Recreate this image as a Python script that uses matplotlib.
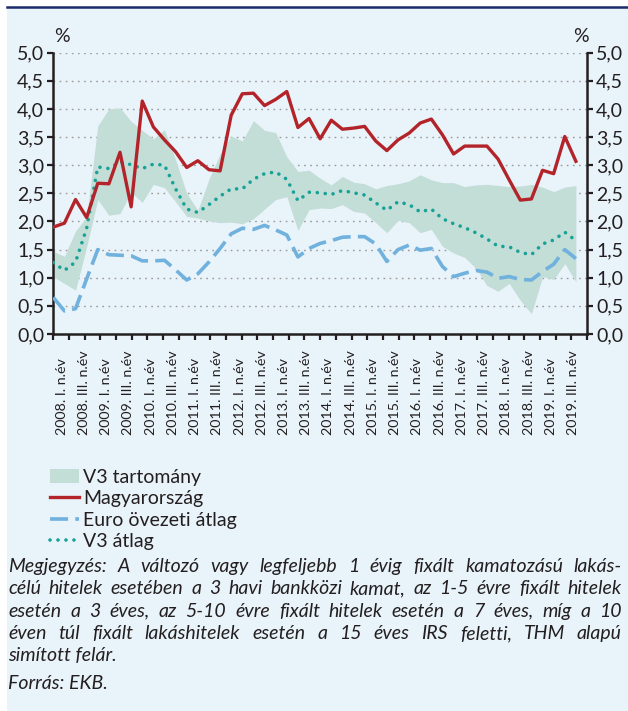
import numpy as np
import matplotlib
matplotlib.use('Agg')
import matplotlib.pyplot as plt
from matplotlib.patches import Rectangle, Patch
from matplotlib.lines import Line2D
from matplotlib.ticker import FuncFormatter

plt.rcParams['font.family'] = ['Lato', 'DejaVu Sans']

# quarterly data, 2008 Q1 - 2019 Q4
quarters = [f'{y}. {q}. n.év' for y in range(2008, 2020) for q in ['I', 'II', 'III', 'IV']]

hungary = [1.90, 1.97, 2.39, 2.07, 2.68, 2.67, 3.23, 2.26, 4.14, 3.68,
           3.45, 3.24, 2.96, 3.08, 2.92, 2.90, 3.89, 4.27, 4.28, 4.06,
           4.17, 4.31, 3.67, 3.83, 3.47, 3.80, 3.64, 3.66, 3.69, 3.43,
           3.26, 3.45, 3.57, 3.75, 3.82, 3.54, 3.20, 3.34, 3.34, 3.34,
           3.11, 2.74, 2.38, 2.40, 2.91, 2.85, 3.51, 3.07]

euro_avg = [0.65, 0.41, 0.45, 0.98, 1.50, 1.41, 1.40, 1.39, 1.30, 1.30,
            1.31, 1.14, 0.96, 1.07, 1.28, 1.52, 1.78, 1.88, 1.86, 1.93,
            1.85, 1.76, 1.37, 1.52, 1.61, 1.66, 1.72, 1.73, 1.73, 1.60,
            1.29, 1.50, 1.58, 1.49, 1.52, 1.20, 1.02, 1.08, 1.13, 1.10,
            0.99, 1.02, 0.97, 0.96, 1.11, 1.24, 1.50, 1.34]

v3_avg = [1.27, 1.13, 1.28, 1.88, 2.97, 2.94, 3.06, 3.01, 2.94, 3.02,
          3.00, 2.58, 2.22, 2.16, 2.30, 2.45, 2.58, 2.58, 2.75, 2.85,
          2.88, 2.75, 2.37, 2.52, 2.51, 2.48, 2.55, 2.51, 2.47, 2.33,
          2.20, 2.35, 2.30, 2.17, 2.22, 2.05, 1.96, 1.89, 1.80, 1.69,
          1.56, 1.55, 1.45, 1.41, 1.60, 1.67, 1.81, 1.66]

v3_low = [1.02, 0.90, 0.78, 1.55, 2.39, 2.11, 2.14, 2.52, 2.34, 2.66,
          2.60, 2.35, 2.09, 2.06, 2.01, 1.98, 1.99, 1.96, 2.05, 2.22,
          2.39, 2.44, 1.84, 2.21, 2.24, 2.23, 2.30, 2.18, 2.15, 1.98,
          1.80, 2.02, 1.98, 1.80, 1.86, 1.56, 1.44, 1.36, 1.17, 0.86,
          0.76, 0.90, 0.60, 0.36, 1.02, 0.97, 1.25, 0.93]

v3_high = [1.47, 1.38, 1.83, 2.08, 3.70, 4.00, 4.02, 3.78, 3.62, 3.47,
           3.63, 3.10, 2.50, 2.20, 2.75, 3.20, 3.52, 3.43, 3.79, 3.62,
           3.58, 3.15, 2.89, 2.91, 2.77, 2.65, 2.80, 2.70, 2.67, 2.58,
           2.64, 2.67, 2.72, 2.83, 2.74, 2.69, 2.69, 2.62, 2.65, 2.66,
           2.64, 2.62, 2.63, 2.66, 2.61, 2.53, 2.61, 2.64]

labels = ['V3 tartomány', 'Magyarország', 'Euro övezeti átlag', 'V3 átlag']

note_lines = [
    'Megjegyzés: A változó vagy legfeljebb 1 évig fixált kamatozású lakás-',
    'célú hitelek esetében a 3 havi bankközi kamat, az 1-5 évre fixált hitelek',
    'esetén a 3 éves, az 5-10 évre fixált hitelek esetén a 7 éves, míg a 10',
    'éven túl fixált lakáshitelek esetén a 15 éves IRS feletti, THM alapú',
]
note_last = 'simított felár.'
source = 'Forrás: EKB.'

BG = '#e9f3fa'
BAND = '#c3ddd7'
RED = '#b3242a'
BLUE = '#70b1dd'
TEAL = '#16a297'
INK = '#231f20'

W, H = 628, 711
fig = plt.figure(figsize=(W / 100, H / 100), dpi=100, facecolor='white')
fig.patches.append(Rectangle((7 / W, 0), 1, 1 - 8 / H, transform=fig.transFigure,
                             facecolor=BG, edgecolor='none', zorder=-10))
fig.add_artist(Line2D([7 / W, 1], [1 - 7 / H, 1 - 7 / H], color='#1b2a6b', lw=1.8))

ax = fig.add_axes([53.3 / W, 1 - 334 / H, (587 - 53.3) / W, (334 - 52.7) / H])
ax.set_facecolor('none')

x = np.arange(len(quarters))
ax.fill_between(x, v3_low, v3_high, color=BAND, lw=0, zorder=1)
ax.plot(x, euro_avg, color=BLUE, lw=2.6, dashes=(5, 2), zorder=3)
ax.plot(x, v3_avg, color=TEAL, lw=2.6, dashes=(0.01, 2.2), dash_capstyle='round', zorder=4)
ax.plot(x, hungary, color=RED, lw=2.4, zorder=5)

ax.set_xlim(0, len(quarters))
ax.set_ylim(0, 5)
ax.set_yticks(np.arange(0, 5.01, 0.5))
ax.yaxis.set_major_formatter(FuncFormatter(lambda v, p: f'{v:.1f}'.replace('.', ',')))
for v in np.arange(0.5, 5.01, 0.5):
    ax.axhline(v, color='#9a9a9a', lw=1.0, dashes=(1.2, 3.2), zorder=0)

ax.set_xticks(np.linspace(0, len(quarters), 35))
ax.set_xticklabels([])
ax.tick_params(axis='x', direction='out', length=4, width=1.6, color=INK)
ax.tick_params(axis='y', direction='out', length=4, width=1.6, color=INK,
               labelsize=14, labelcolor=INK, pad=2.5, right=True, labelright=True)
for s in ['left', 'right', 'bottom']:
    ax.spines[s].set_linewidth(1.8)
    ax.spines[s].set_color(INK)
ax.spines['top'].set_visible(False)

trans = ax.get_xaxis_transform()
for i in range(0, len(quarters), 2):
    ax.text(i + 0.75, -(435 - 334) / (334 - 52.7), quarters[i], transform=trans,
            rotation=90, ha='center', va='bottom', fontsize=10.3, color=INK)

fig.text(62 / W, 1 - 37 / H, '%', ha='center', va='center', fontsize=14, color=INK)
fig.text(581 / W, 1 - 37 / H, '%', ha='center', va='center', fontsize=14, color=INK)

handles = [Patch(facecolor=BAND, edgecolor='none'),
           Line2D([], [], color=RED, lw=2.4),
           Line2D([], [], color=BLUE, lw=2.6, dashes=(5, 2)),
           Line2D([], [], color=TEAL, lw=2.6, dashes=(0.01, 2.2), dash_capstyle='round')]
fig.legend(handles, labels, loc='upper left', bbox_to_anchor=(50 / W, 1 - 469 / H),
           frameon=False, fontsize=14, handlelength=1.5, handletextpad=0.2,
           labelspacing=0.22, borderpad=0, borderaxespad=0, labelcolor=INK)

# justified note text
renderer = fig.canvas.get_renderer()
x0, x1 = 8, 622
kw = dict(fontsize=14, style='italic', color=INK, va='baseline')
for k, line in enumerate(note_lines):
    yb = 1 - (572 + 22.3 * k) / H
    words = line.split(' ')
    ts = [fig.text(0, yb, w, **kw) for w in words]
    widths = [t.get_window_extent(renderer).width for t in ts]
    gap = ((x1 - x0) - sum(widths)) / (len(words) - 1)
    xp = x0
    for t, w in zip(ts, widths):
        t.set_x(xp / W)
        xp += w + gap
fig.text(x0 / W, 1 - (572 + 22.3 * 4) / H, note_last, **kw)
fig.text(x0 / W, 1 - 689 / H, source, **kw)

fig.savefig('out.png', dpi=100, facecolor='white')
